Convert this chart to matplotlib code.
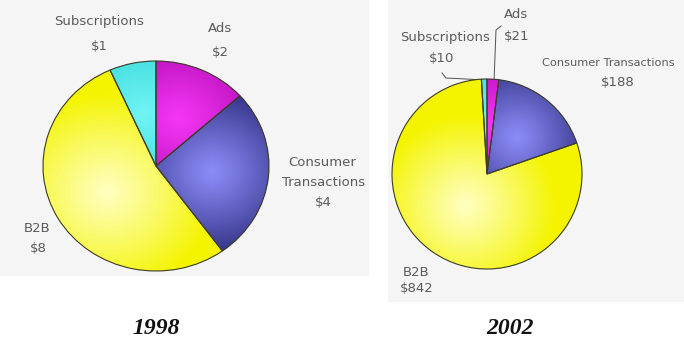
import numpy as np
import matplotlib
matplotlib.use("Agg")
import matplotlib.pyplot as plt

# data
categories = ["Ads", "Consumer Transactions", "B2B", "Subscriptions"]
values_1998 = [2, 4, 8, 1]
values_2002 = [21, 188, 842, 10]
years = ["1998", "2002"]

# light (centre) / dark (rim) colour per category
light_colors = ["#f436f4", "#8c8cf8", "#ffffc0", "#70f4f4"]
dark_colors = ["#a000a4", "#1e1e6c", "#f4f400", "#28d0d0"]

W, H = 684, 341


def hex_rgb(c):
    return np.array(matplotlib.colors.to_rgb(c))


def add_pie(fig, values, cx, cy, rx, ry, spots):
    ax = fig.add_axes([(cx - rx) / W, (H - (cy + ry)) / H, 2 * rx / W, 2 * ry / H])
    wedges, _ = ax.pie(values, startangle=90, counterclock=False, radius=1,
                       colors=dark_colors, wedgeprops=dict(linewidth=0))
    n = 300
    xs = np.linspace(-1, 1, n)
    X, Y = np.meshgrid(xs, xs)
    for i, w in enumerate(wedges):
        # radial gradient centred on a spot along the wedge bisector
        mid = np.deg2rad((w.theta1 + w.theta2) / 2)
        gx, gy = spots[i] * np.cos(mid), spots[i] * np.sin(mid)
        d = np.hypot(X - gx, Y - gy)
        t = np.clip(d / 0.95, 0, 1) ** 1.1
        lc, dc = hex_rgb(light_colors[i]), hex_rgb(dark_colors[i])
        img = lc[None, None, :] * (1 - t[..., None]) + dc[None, None, :] * t[..., None]
        im = ax.imshow(img, extent=(-1, 1, -1, 1), origin="lower",
                       aspect="auto", zorder=2)
        im.set_clip_path(w)
    ax.pie(values, startangle=90, counterclock=False, radius=1,
           colors=["none"] * len(values),
           wedgeprops=dict(edgecolor="#3c3c28", linewidth=0.8, zorder=3))
    ax.set_xlim(-1, 1)
    ax.set_ylim(-1, 1)
    ax.set_aspect("auto")
    ax.axis("off")
    return ax


fig = plt.figure(figsize=(W / 100, H / 100), dpi=100)
bg = fig.add_axes([0, 0, 1, 1])
bg.set_xlim(0, W)
bg.set_ylim(H, 0)
bg.axis("off")

# the two screenshot panels
bg.add_patch(plt.Rectangle((0, 0), 369, 276, color="#f5f5f5", lw=0))
bg.add_patch(plt.Rectangle((388, 0), W - 388, 302, color="#f5f5f5", lw=0))

add_pie(fig, values_1998, 156, 166, 113, 105, [0.5, 0.5, 0.5, 0.5])
add_pie(fig, values_2002, 487, 174, 95, 95, [0.5, 0.5, 0.4, 0.5])

lab = dict(fontsize=9.5, color="#5a5a5a", family="DejaVu Sans", va="center")

# 1998 labels
bg.text(99, 22, "Subscriptions", ha="center", **lab)
bg.text(99, 46, f"${values_1998[3]}", ha="center", **lab)
bg.text(220, 29, "Ads", ha="center", **lab)
bg.text(220, 53, f"${values_1998[0]}", ha="center", **lab)
bg.text(322, 162, "Consumer", ha="center", **lab)
bg.text(324, 182, "Transactions", ha="center", **lab)
bg.text(323, 203, f"${values_1998[1]}", ha="center", **lab)
bg.text(37, 228, "B2B", ha="center", **lab)
bg.text(38, 248, f"${values_1998[2]}", ha="center", **lab)

# 2002 labels
bg.text(445, 37, "Subscriptions", ha="center", **lab)
bg.text(442, 58, f"${values_2002[3]}", ha="center", **lab)
bg.text(516, 15, "Ads", ha="center", **lab)
bg.text(517, 37, f"${values_2002[0]}", ha="center", **lab)
bg.text(542, 63, "Consumer Transactions", ha="left",
        **{**lab, "fontsize": 8.2})
bg.text(618, 83, f"${values_2002[1]}", ha="center", **lab)
bg.text(416, 272, "B2B", ha="center", **lab)
bg.text(417, 288, f"${values_2002[2]}", ha="center", **lab)

# leader lines for the thin 2002 slices
bg.plot([442, 446, 485], [73, 78, 80], color="#505050", lw=0.7)
bg.plot([494, 496, 501], [82, 30, 26], color="#505050", lw=0.7)

# year captions
cap = dict(fontsize=17, family="Liberation Serif", weight="bold",
           style="italic", ha="center", va="center", color="#111111")
bg.text(156, 328, years[0], **cap)
bg.text(510, 328, years[1], **cap)

fig.savefig("out.png", dpi=100)
